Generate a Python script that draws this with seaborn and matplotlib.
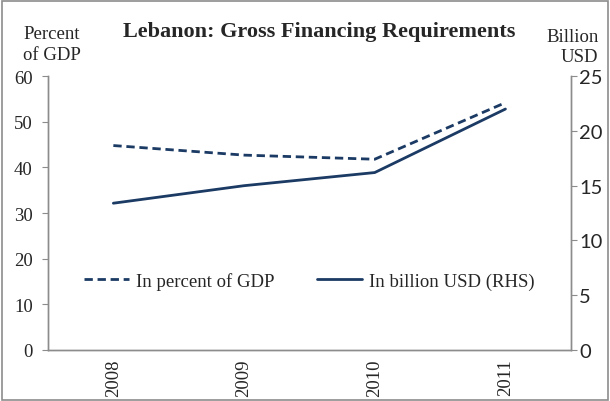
import matplotlib
matplotlib.use("Agg")
import matplotlib.pyplot as plt
import matplotlib.ticker as ticker
from matplotlib.patches import Rectangle
import pandas as pd
import seaborn as sns

# data
years = ["2008", "2009", "2010", "2011"]
pct_gdp = [44.8, 42.7, 41.8, 54.2]
bn_usd = [13.4, 15.0, 16.2, 22.0]
left_ticks = [0, 10, 20, 30, 40, 50, 60]
right_ticks = [0, 5, 10, 15, 20, 25]

navy = "#1B3A64"
grey = "#8C8C8C"
serif = ["Liberation Serif", "DejaVu Serif"]
fs = 13.5

sns.set_style("white")
plt.rcParams["font.family"] = serif

df = pd.DataFrame({"pos": range(len(years)), "year": years,
                   "pct": pct_gdp, "usd": bn_usd})

fig = plt.figure(figsize=(6.1, 4.02), dpi=100)
ax = fig.add_axes([0.0787, 0.127, 0.857, 0.681])
ax2 = ax.twinx()

sns.lineplot(data=df, x="pos", y="pct", ax=ax, color=navy, lw=2.0,
             linestyle=(0, (3, 1.7)), label="In percent of GDP", legend=False)
sns.lineplot(data=df, x="pos", y="usd", ax=ax2, color=navy, lw=2.0,
             label="In billion USD (RHS)", legend=False)

ax.set_xlim(-0.5, len(years) - 0.5)
ax.set_ylim(0, 60)
ax2.set_ylim(0, 25)
ax.set_yticks(left_ticks)
ax2.set_yticks(right_ticks)

# category labels centred, ticks at category boundaries
ax.xaxis.set_major_locator(ticker.FixedLocator(range(len(years))))
ax.set_xticklabels(years, rotation=90, fontsize=fs, family=serif)
ax.xaxis.set_minor_locator(ticker.FixedLocator([i - 0.5 for i in range(len(years) + 1)]))
ax.tick_params(axis="x", which="major", length=0, pad=6)
ax.tick_params(axis="x", which="minor", length=4, color=grey, direction="out")
ax.tick_params(axis="y", length=4, color=grey, direction="out", labelsize=fs, pad=7)
ax2.tick_params(axis="y", length=4, color=grey, direction="out", labelsize=14.5, pad=2)
for lab in ax2.get_yticklabels():
    lab.set_family(["Lato", "DejaVu Sans"])

for a in (ax, ax2):
    a.set_xlabel("")
    a.set_ylabel("")
    a.grid(False)
    a.spines["top"].set_visible(False)
    for s in ("left", "right", "bottom"):
        a.spines[s].set_color(grey)
        a.spines[s].set_linewidth(1.0)

h1, l1 = ax.get_legend_handles_labels()
h2, l2 = ax2.get_legend_handles_labels()
ax.legend(h1 + h2, l1 + l2, loc="center", bbox_to_anchor=(0.50, 0.252), ncol=2,
          frameon=False, fontsize=fs, handlelength=2.4, handletextpad=0.35,
          columnspacing=2.3)

fig.text(0.524, 0.92, "Lebanon: Gross Financing Requirements", ha="center",
         va="center", fontsize=16, fontweight="bold")
fig.text(0.085, 0.888, "Percent\nof GDP", ha="center", va="center",
         fontsize=fs, linespacing=1.25)
fig.text(0.981, 0.882, "Billion\nUSD", ha="right", va="center", multialignment="right",
         fontsize=fs, linespacing=1.25)

fig.patches.append(Rectangle((0.003, 0.003), 0.994, 0.992, transform=fig.transFigure,
                             fill=False, edgecolor=grey, lw=1.2))

fig.savefig("out.png", dpi=100)
